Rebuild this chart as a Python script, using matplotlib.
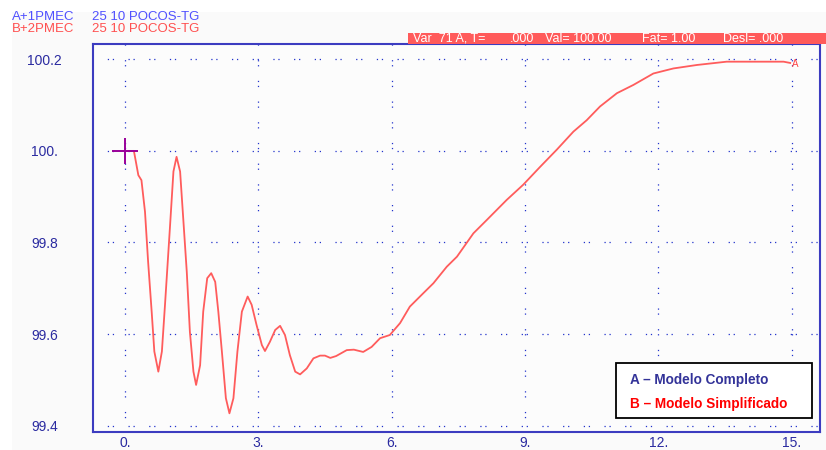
import matplotlib.pyplot as plt
from matplotlib.patches import Rectangle

plt.rcParams['font.family'] = ['Liberation Sans', 'DejaVu Sans']
plt.rcParams['lines.scale_dashes'] = False

# curve B (simplified model)
t = [0.0, 0.20, 0.30, 0.37, 0.45, 0.52, 0.60, 0.66, 0.75, 0.83, 0.90, 1.01, 1.09, 1.16,
     1.24, 1.31, 1.39, 1.46, 1.54, 1.60, 1.69, 1.76, 1.85, 1.94, 2.03, 2.10, 2.18, 2.27,
     2.35, 2.44, 2.53, 2.63, 2.76, 2.85, 2.96, 3.08, 3.15, 3.26, 3.38, 3.49, 3.60, 3.71,
     3.83, 3.94, 4.09, 4.24, 4.39, 4.50, 4.62, 4.75, 4.99, 5.15, 5.36, 5.55, 5.74, 5.96,
     6.19, 6.41, 6.71, 6.94, 7.24, 7.47, 7.84, 8.14, 8.59, 8.96, 9.34, 9.72, 10.09, 10.39,
     10.69, 11.07, 11.44, 11.89, 12.34, 12.87, 13.54, 14.14, 14.82, 14.97]
pmec = [100.0, 100.0, 99.947, 99.936, 99.867, 99.758, 99.649, 99.562, 99.518, 99.562,
        99.664, 99.831, 99.955, 99.987, 99.955, 99.853, 99.736, 99.605, 99.518, 99.489,
        99.532, 99.649, 99.722, 99.733, 99.714, 99.649, 99.562, 99.460, 99.427, 99.460,
        99.562, 99.649, 99.682, 99.664, 99.620, 99.576, 99.563, 99.583, 99.609, 99.618,
        99.598, 99.554, 99.518, 99.512, 99.525, 99.547, 99.553, 99.553, 99.548, 99.552,
        99.565, 99.566, 99.561, 99.572, 99.591, 99.598, 99.624, 99.660, 99.689, 99.711,
        99.747, 99.769, 99.820, 99.849, 99.893, 99.926, 99.965, 100.003, 100.042, 100.067,
        100.097, 100.126, 100.144, 100.169, 100.180, 100.1876, 100.1948, 100.1948, 100.1948,
        100.192]

xticks = [0, 3, 6, 9, 12, 15]
xlabels = ['0.', '3.', '6.', '9.', '12.', '15.']
yticks = [99.4, 99.6, 99.8, 100.0, 100.2]
ylabels = ['99.4', '99.6', '99.8', '100.', '100.2']

W, H = 826, 450
fig = plt.figure(figsize=(W / 100, H / 100), dpi=100, facecolor='white')
fig.add_artist(Rectangle((12 / W, 0), 1, 1 - 12 / H, transform=fig.transFigure,
                         facecolor='#fafafa', edgecolor='none', zorder=-10))

ax = fig.add_axes([92.7 / W, 1 - 432 / H, (820 - 92.7) / W, (432 - 44) / H])
ax.set_facecolor('#fcfcfc')
ax.set_xlim(-0.727, 15.64)
ax.set_ylim(99.3862, 100.2334)

dots = (4.6, (0.9, 2.7, 0.9, 10.4))
for x in xticks:
    ax.axvline(x, color='#2233cc', lw=0.9, linestyle=dots, zorder=1)
for y in yticks:
    ax.axhline(y, color='#2233cc', lw=0.9, linestyle=dots, zorder=1)

ax.plot(t, pmec, color='#ff5c5c', lw=1.3, zorder=3)
ax.plot([0], [100.0], marker='+', color='#990099', markersize=19, mew=1.4, zorder=4)
ax.text(15.08, 100.19, 'A', color='#ff4444', fontsize=7, ha='center', va='center', zorder=5)

for s in ax.spines.values():
    s.set_color('#3c3cc0')
    s.set_linewidth(1.5)

ax.set_xticks(xticks)
ax.set_xticklabels(xlabels)
ax.set_yticks(yticks)
ax.set_yticklabels(ylabels)
ax.tick_params(length=0, colors='#2a2aa0', labelsize=10)
ax.tick_params(axis='x', pad=3)
ax.tick_params(axis='y', pad=34.5)
for lab in ax.get_yticklabels():
    lab.set_horizontalalignment('center')

# header texts
fig.text(12 / W, 1 - 17 / H, 'A+1PMEC', color='#5050ff', fontsize=9.5, va='center')
fig.text(92 / W, 1 - 17 / H, '25 10 POCOS-TG', color='#5050ff', fontsize=9.5, va='center')
fig.text(12 / W, 1 - 28.5 / H, 'B+2PMEC', color='#ff5050', fontsize=9.5, va='center')
fig.text(92 / W, 1 - 28.5 / H, '25 10 POCOS-TG', color='#ff5050', fontsize=9.5, va='center')

# red status banner
fig.add_artist(Rectangle((408 / W, 1 - 44 / H), (826 - 408) / W, 11 / H,
                         transform=fig.transFigure, facecolor='#ff5a5a', edgecolor='none'))
for px, s in [(413, 'Var  71 A, T='), (510, '.000'), (545, 'Val= 100.00'),
              (642, 'Fat= 1.00'), (723, 'Desl= .000')]:
    fig.text(px / W, 1 - 38.5 / H, s, color='white', fontsize=9, va='center')

# legend box
fig.add_artist(Rectangle((616 / W, 1 - 418 / H), (812 - 616) / W, (418 - 363) / H,
                         transform=fig.transFigure, facecolor='white', edgecolor='black',
                         lw=1.3, zorder=6))
fig.text(630 / W, 1 - 380 / H, 'A – Modelo Completo', color='#333399', fontsize=9.8,
         fontweight='bold', va='center', zorder=7)
fig.text(630 / W, 1 - 404 / H, 'B – Modelo Simplificado', color='#ff0000', fontsize=9.8,
         fontweight='bold', va='center', zorder=7)

fig.savefig('out.png', dpi=100, facecolor=fig.get_facecolor())
